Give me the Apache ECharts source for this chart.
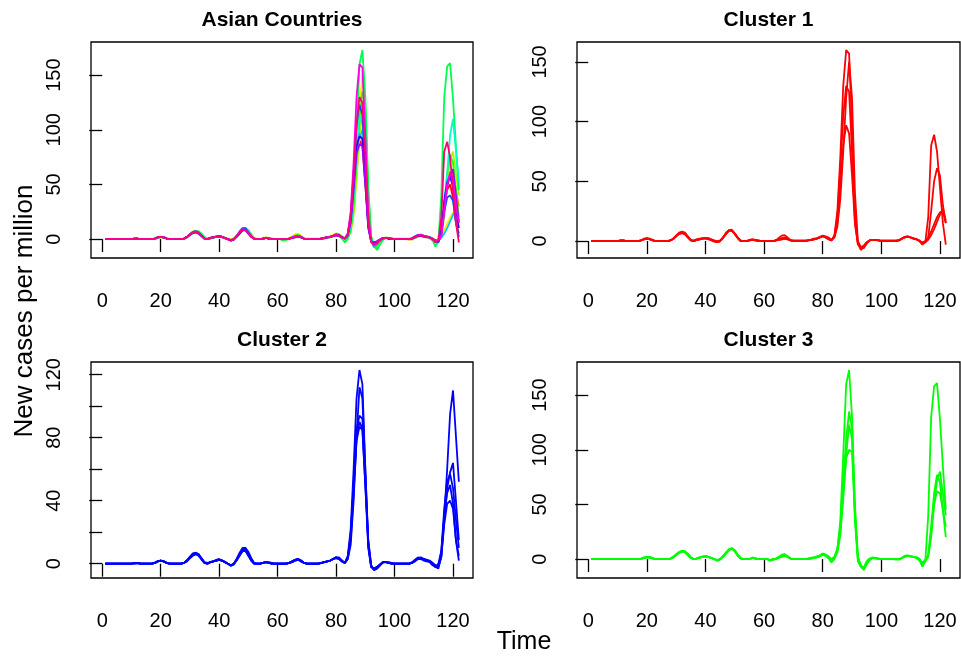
<!DOCTYPE html>
<html>
<head>
<meta charset="utf-8">
<script src="https://cdn.jsdelivr.net/npm/echarts@6/dist/echarts.min.js"></script>
<style>
html,body{margin:0;padding:0;background:#fff;}
#chart{width:961px;height:656px;}
</style>
</head>
<body>
<div id="chart"></div>
<script>
// ---------------- DATA ----------------
const panelTitles = ["Asian Countries", "Cluster 1", "Cluster 2", "Cluster 3"];
const xTickValues = [0, 20, 40, 60, 80, 100, 120];
const yTicks50 = [0, 50, 100, 150];
const yTicks20 = [0, 20, 40, 60, 80, 100, 120];
const yLabels40 = [0, 40, 80, 120];
const xAxisTitle = "Time";
const yAxisTitle = "New cases per million";

// one series per country (time index 1..122)
const s00 = [0,0,0,0,0,0,0,0,0,0, 0.5,0.5,0,0,0,0,0,0.5,1.5,2, 1.5,0.5,0,0,0,0,0,0.5,2,4, 6,7,6,3,0.5,0,1,1.5,2,2.5, 2,1,0,-1,0,3,6,9,9,6, 3,0,0,0,0.5,1,0.5,0,0,0, 0,0,0,0.5,1.5,2.5,3,2,0.5,0, 0,0,0,0,0.5,1,1.5,2,3,4, 3,1.5,0.5,4,18,50,80,90,86,50, 15,-1,-4,-3,-1,1,1,0.5,0,0, 0,0,0,0,0,0.5,2,3.5,3,2, 1.5,1,-1,-2,0,8,30,45,50,38, 15,5];
const s01 = [0,0,0,0,0,0,0,0,0,0, 0,0,0,0,0,0,0,0,1,1.5, 1.5,1,0,0,0,0,0,0,1.5,3.5, 5.5,7,6.5,4,1,0,0.5,1.5,2,2.5, 2,1,0,-1.5,-0.5,2,5,8,10,8, 4,1,0,0,0,1,0.5,0,0,0, 0,-1,0,0.5,2,4,4.5,2.5,0.5,0, 0,0,0,0,0.5,1,1.5,2.5,3.5,5, 4,2.5,0,2,8,25,60,92,100,98, 40,2,-6,-8,-3,0,1,0.5,0,0, 0,0,0,0,-0.5,0,1,2.5,3,2.5, 2,1.5,0.5,-4,-1,3,25,50,62,60, 45,30];
const s02 = [0,0,0,0,0,0,0,0,0,0, 0.5,0.5,0,0,0,0,0,0.5,2,2.5, 2,1,0,0,0,0,0,0.5,2,4.5, 7,8,7,4,1,0.5,1.5,2,2.5,2.5, 2.5,1.5,0.5,0,0.5,3,7,9,9,6, 2.5,0,0,0,1,1.5,1,0.5,0,0, 0,0,0,0.5,2.5,4.5,5,3,1,0.5, 0.5,0.5,0.5,0.5,0.5,1,2,2.5,3.5,4.5, 4,3,1,3,12,35,75,120,150,120, 40,0,-5,-6,-2,0.5,1,1,0.5,0.5, 0.5,0.5,0.5,0.5,0.5,1,2,3.5,4,3, 2.5,1.5,0,-1,0,3,8,14,20,24, 25,15];
const s03 = [0,0,0,0,0,0,0,0,0,0, 0,0,0,0,0,0,0,0.5,1,1.5, 1,0.5,0,0,0,0,0,0.5,2,4, 6,7.5,7,4,1,0,0.5,1.5,2,2.5, 2,1,0,-1,0,2.5,6,9,10,7, 3,0.5,0,0,0,1,0.5,0,0,0, 0,-1,0,0.5,1.5,3,4,2,0.5,0, 0,0,0,0,0,0.5,1,1.5,2.5,4, 3,1.5,0,1,6,22,55,95,123,110, 35,-2,-7,-9,-3,0,1,1,0.5,0, 0,0,0,0,0,-0.5,1,2.5,3,2.5, 2,1.5,0,-5,-2,2,20,50,72,80, 60,40];
const s04 = [0,0,0,0,0,0,0,0,0,0, 0,0,0,0,0,0,0,0.5,1.5,2, 1.5,0.5,0,0,0,0,0,0.5,2,4.5, 6.5,7,6,3.5,1,0,0.5,1.5,2.5,3, 2,1,0,-1.5,0,3,6,9,9.5,7, 3,0.5,0,0,0,1.5,0.5,0,0,0, 0,-1.5,-0.5,0,1.5,3,4,2.5,0.5,0, 0,0,0,0,0.5,1,1.5,2,3,5, 4,2,-1,2,10,30,70,110,135,120, 40,0,-6,-8,-2,0.5,1.5,1,0.5,0, 0,0,0,0,0,0,1,3,3.5,2.5, 2,1,-1,-3,-1,4,30,60,77,70, 45,20];
const s05 = [0,0,0,0,0,0,0,0,0,0, 0,0,0,0,0,0,0,0,1,2, 2,1,0,0,0,0,0,0,1.5,4, 6,7.5,7,5,2,0,0.5,1,2,2.5, 2,1,0,-1,0,2,5,8,9.5,8, 4,1,0,0,0,1,1,0,0,0, 0,-1,-0.5,0,1,2,3,2,0.5,0, 0,0,0,0,0,0.5,1,1.5,2.5,4, 3,0.5,-3,0,8,35,95,160,173,130, 50,2,-6,-10,-5,-1,1,1,0.5,0, 0,0,0,0,0,0,1,2,3,2.5, 2,1,-1,-7,-2,40,130,158,161,128, 85,45];
const s06 = [0,0,0,0,0,0,0,0,0,0, 0.5,0.5,0,0,0,0,0,0.5,1.5,2, 1.5,0.5,0,0,0,0,0,0.5,1.5,3.5, 5,6,5.5,3.5,1,0.5,1,1.5,2,2.5, 2,1,0,-1,0,2.5,5.5,8.5,10,7.5, 3.5,0.5,0,0,0.5,1,1,0.5,0,0, 0,0,0,0.5,1.5,2.5,3,2,0.5,0, 0,0,0,0,0.5,1,1.5,2,3,4, 3.5,2,0.5,3,12,40,80,112,105,60, 15,-1,-4,-3,-1,0.5,1,1,0.5,0, 0,0,0,0,0,0.5,2,3.5,4,3, 2.5,2,0.5,-2,-1,5,30,60,95,110, 81,52];
const s07 = [0,0,0,0,0,0,0,0,0,0, 0,0,0,0,0,0,0,0.5,1.5,2, 1.5,0.5,0,0,0,0,0,0.5,1.5,4, 6,7,6,3,0.5,0,1,1.5,2,2.5, 2,1,0,-1,0,2.5,6,9,9.5,6.5, 3,0.5,0,0,0.5,1,1,0.5,0,0, 0,0,0,0.5,1,1.5,2,1.5,0.5,0, 0,0,0,0,0.5,1,1.5,2,3,4, 3,1.5,0.5,4,15,45,80,97,90,55, 15,-2,-7.5,-5,-2,0.5,1,1,0.5,0, 0,0,0,0,0,0.5,2,3,3.5,3, 2,1.5,0.5,-2,-1,1,5,10,16,22, 27,17];
const s08 = [0,0,0,0,0,0,0,0,0,0, 0.5,0.5,0,0,0,0,0,0.5,1.5,2, 1.5,0.5,0,0,0,0,0,0.5,2,4.5, 6.5,7,6,3,0.5,0,1,1.5,2,2.5, 2,1,0,-1,-0.5,3,7,10,10,6, 2,0,0,0,0.5,1,0.5,0,0,0, 0,0,0,0.5,1.5,2.5,3,2,0.5,0, 0,0,0,0,0.5,1,1.5,2,3,4, 4,2,0.5,5,22,60,105,123,114,60, 12,-2,-4,-3,-1,1,1,0.5,0,0, 0,0,0,0,0,1,2.5,4,3.5,2.5, 2,1.5,0,-2,-3,5,25,38,40,35, 15,2];
const s09 = [0,0,0,0,0,0,0,0,0,0, 0,0.5,0,0,0,0,0,0.5,1.5,2, 1.5,0.5,0,0,0,0,0,0.5,2,4, 6,6.5,5,2.5,0.5,0,1,1.5,2,2.5, 2,1,0,-1.5,-0.5,2,5,8,8.5,5, 2,0,0,0,0.5,1,0.5,0,0,0, 0,0,0,0.5,1,2,2.5,1.5,0.5,0, 0,0,0,0,0.5,1,1.5,2,3,3.5, 3,1.5,0.5,4,18,50,85,94,92,55, 12,-2,-3,-2,-0.5,1,1,0.5,0,0, 0,0,0,0,0,0.5,2,3,3,2.5, 2,1.5,0,-1.5,-2,8,35,52,57,48, 28,10];
const s10 = [0,0,0,0,0,0,0,0,0,0, 0,0,0,0,0,0,0,0.5,1.5,2, 1.5,0.5,0,0,0,0,0,0.5,2,4, 5.5,6,5,3,0.5,0,1,1.5,2.5,3, 2,1,0,-1,0,2.5,5.5,8,8,5, 2,0,0,0,0.5,1,0.5,0,0,0, 0,0,0,0.5,1,2,2.5,1.5,0.5,0, 0,0,0,0,0.5,1,1.5,2,3,3.5, 3,1.5,0.5,3,15,45,78,87,85,50, 10,-2,-3,-2,-0.5,1,1,0.5,0,0, 0,0,0,0,0,0.5,1.5,3,3.5,3, 2.5,1.5,0.5,-1,-2,4,28,48,58,64, 40,15];
const s11 = [0,0,0,0,0,0,0,0,0,0, 0.5,0.5,0,0,0,0,0,0.5,1.5,2, 1.5,0.5,0,0,0,0,0,0.5,2,4.5, 6.5,7,6,3,0.5,0,1,1.5,2,2.5, 2,1,0,-1,0,3,6,9,8.5,6, 2.5,0,0,0,0.5,1,0.5,0,0,0, 0,0,0,0.5,1.5,2.5,3,2,0.5,0, 0,0,0,0,0.5,1,1.5,2,3,4, 3,1.5,0.5,5,25,70,130,160,157,95, 25,-2,-6,-4,-1,0.5,1,1,0.5,0, 0,0,0,0,0,0.5,2,3.5,4,3, 2,1.5,0,-2,-1,3,25,50,61,55, 30,15];
const s12 = [0,0,0,0,0,0,0,0,0,0, 0.5,0.5,0,0,0,0,0,0.5,1.5,2, 1.5,0.5,0,0,0,0,0,0.5,2,4, 6,6.5,5.5,3,0.5,0,1,1.5,2,2, 1.5,0.5,-0.5,-1,0,3,6,8.5,8.5,6, 2.5,0,0,0,0.5,1,0.5,0,0,0, 0,0,0,0.5,1,1.5,2,1.5,0.5,0, 0,0,0,0,0.5,1,1.5,2,3,4, 3,1.5,0.5,4,20,60,105,130,125,75, 15,-3,-5,-4,-1,0.5,1,1,0.5,0, 0,0,0,0,0,0.5,2,3,3.5,3, 2,1.5,0,-3,-1,20,80,89,75,45, 15,-3];

const countrySeries = [s00, s01, s02, s03, s04, s05, s06, s07, s08, s09, s10, s11, s12];
// cluster membership of each country series (1, 2 or 3)
const clusterOf = [2, 3, 1, 3, 3, 3, 2, 1, 2, 2, 2, 1, 1];

// ---------------- STYLE ----------------
const rainbowColors = ["#FF0000","#FF7600","#FFEB00","#9DFF00","#27FF00","#00FF4E","#00FFC4","#00C4FF","#004EFF","#2700FF","#9D00FF","#FF00EB","#FF0076"];
const clusterColors = {1: "#FF0000", 2: "#0000FF", 3: "#00FF00"};
const FONT = "'Liberation Sans', Arial, Helvetica, sans-serif";

const grids = [
  {left: 91, top: 42, width: 382, height: 216},
  {left: 577, top: 42, width: 383, height: 216},
  {left: 91, top: 362, width: 382, height: 216},
  {left: 577, top: 362, width: 383, height: 216}
];
const panelYTicks = [yTicks50, yTicks50, yTicks20, yTicks50];
const panelYLabels = [yTicks50, yTicks50, yLabels40, yTicks50];

// ---------------- BUILD ----------------
const nT = s00.length;
const timeIdx = [];
for (let i = 1; i <= nT; i++) timeIdx.push(i);

function rRange(lo, hi) { const d = (hi - lo) * 0.04; return [lo - d, hi + d]; }

const panelMembers = [
  countrySeries.map((_, i) => i),
  countrySeries.map((_, i) => i).filter(i => clusterOf[i] === 1),
  countrySeries.map((_, i) => i).filter(i => clusterOf[i] === 2),
  countrySeries.map((_, i) => i).filter(i => clusterOf[i] === 3)
];

const xR = rRange(timeIdx[0], timeIdx[nT - 1]);
const option = {
  animation: false,
  backgroundColor: '#ffffff',
  textStyle: {fontFamily: FONT},
  title: [], grid: [], xAxis: [], yAxis: [], series: [],
  graphic: [
    {type: 'text', x: 25, y: 311, rotation: Math.PI / 2,
     style: {text: yAxisTitle, font: '26px ' + FONT, fill: '#000', align: 'center', verticalAlign: 'middle'}},
    {type: 'text', x: 524, y: 642,
     style: {text: xAxisTitle, font: '25px ' + FONT, fill: '#000', align: 'center', verticalAlign: 'middle'}}
  ]
};

for (let p = 0; p < 4; p++) {
  const g = grids[p];
  option.grid.push(Object.assign({show: true, borderColor: '#000', borderWidth: 1.3, backgroundColor: 'transparent', containLabel: false}, g));
  option.title.push({
    text: panelTitles[p], left: g.left + g.width / 2, top: g.top - 32, textAlign: 'center', padding: 0,
    textStyle: {fontFamily: FONT, fontWeight: 'bold', fontSize: 21, color: '#000'}
  });
  let lo = Infinity, hi = -Infinity;
  panelMembers[p].forEach(i => countrySeries[i].forEach(v => { if (v < lo) lo = v; if (v > hi) hi = v; }));
  const yR = rRange(lo, hi);
  option.xAxis.push({
    type: 'value', gridIndex: p, min: xR[0], max: xR[1],
    axisLine: {show: false}, splitLine: {show: false},
    axisTick: {show: true, inside: false, length: 13, customValues: xTickValues, lineStyle: {color: '#000', width: 1.3}},
    axisLabel: {show: true, customValues: xTickValues, margin: 33, fontSize: 20, color: '#000', fontFamily: FONT}
  });
  option.yAxis.push({
    type: 'value', gridIndex: p, min: yR[0], max: yR[1],
    axisLine: {show: false}, splitLine: {show: false},
    axisTick: {show: true, inside: false, length: 13, customValues: panelYTicks[p], lineStyle: {color: '#000', width: 1.3}},
    axisLabel: {show: true, customValues: panelYLabels[p], rotate: 90, margin: 27, fontSize: 20, color: '#000', fontFamily: FONT}
  });
  panelMembers[p].forEach(i => {
    option.series.push({
      type: 'line', xAxisIndex: p, yAxisIndex: p, symbol: 'none', silent: true,
      data: timeIdx.map((t, k) => [t, countrySeries[i][k]]),
      lineStyle: {width: 1.8, color: p === 0 ? rainbowColors[i] : clusterColors[clusterOf[i]]},
      itemStyle: {color: p === 0 ? rainbowColors[i] : clusterColors[clusterOf[i]]}
    });
  });
}

const chart = echarts.init(document.getElementById('chart'), null, {renderer: 'canvas'});
chart.setOption(option);
</script>
</body>
</html>
